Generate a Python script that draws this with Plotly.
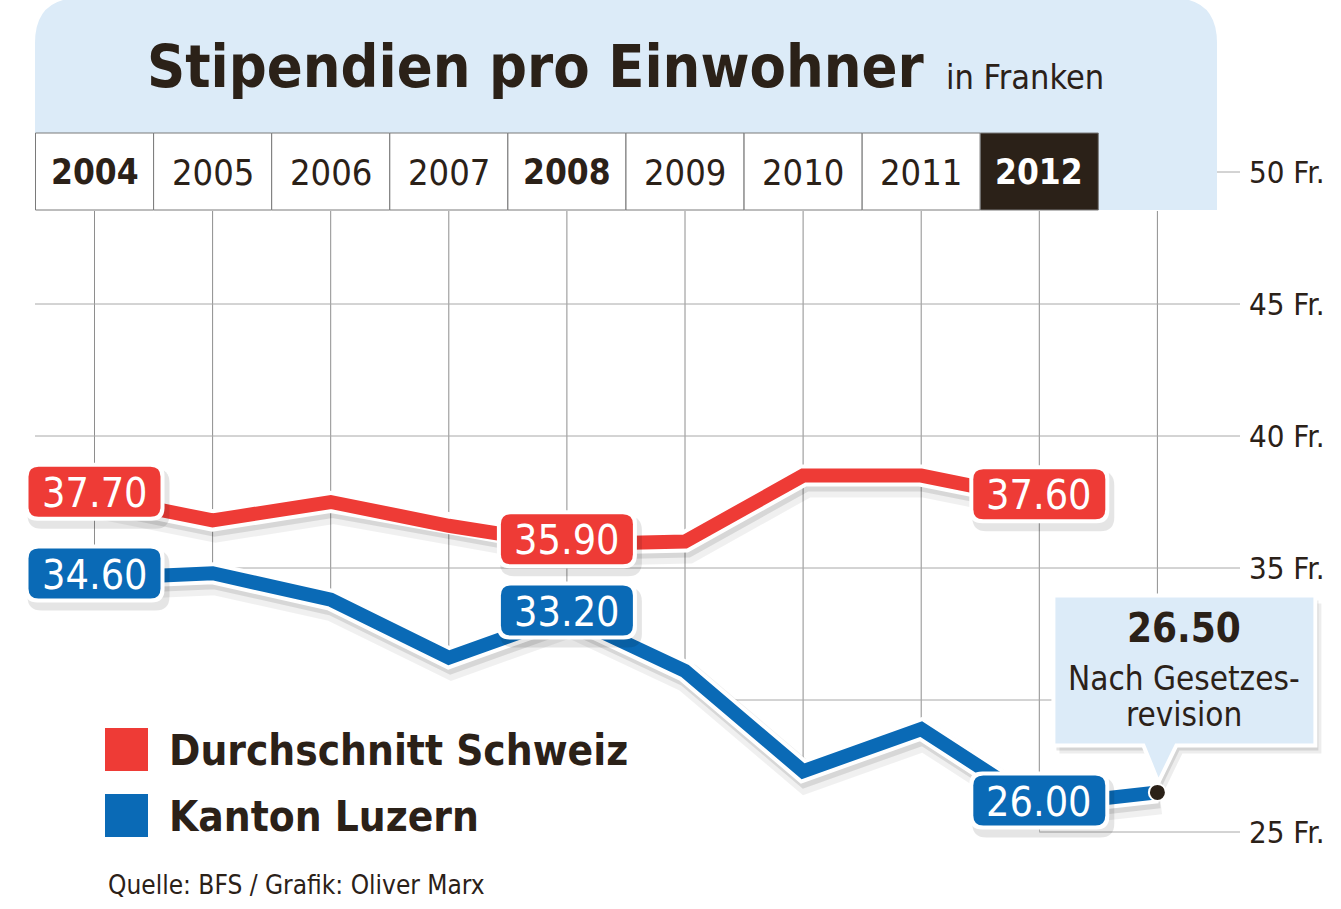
import plotly.graph_objects as go

# ---------------- data ----------------
years = [2004, 2005, 2006, 2007, 2008, 2009, 2010, 2011, 2012]
year_labels = ["2004", "2005", "2006", "2007", "2008", "2009", "2010", "2011", "2012"]
bold_years = ["2004", "2008", "2012"]
schweiz = [37.70, 36.8, 37.5, 36.6, 35.90, 36.0, 38.5, 38.5, 37.60]
luzern_years = [2004, 2005, 2006, 2007, 2008, 2009, 2010, 2011, 2012, 2013]
luzern = [34.60, 34.8, 33.8, 31.6, 33.20, 31.1, 27.3, 28.9, 26.00, 26.50]
labelled_years = [2004, 2008, 2012]
tick_values = [50, 45, 40, 35, 25]
tick_labels = ["50 Fr.", "45 Fr.", "40 Fr.", "35 Fr.", "25 Fr."]
grid_values = [45, 40, 35, 30, 25]
series_names = ["Durchschnitt Schweiz", "Kanton Luzern"]
title = "Stipendien pro Einwohner"
subtitle = "in Franken"
callout_lines = ["Nach Gesetzes-", "revision"]
source = "Quelle: BFS / Grafik: Oliver Marx"

# ---------------- style ----------------
W, H = 1341, 909
RED = "#ee3b36"
BLUE = "#0a6ab6"
DARK = "#2b2118"
LIGHT = "#dcebf8"
GRID_V = "#8e8e8e"
GRID_H = "#a8a8a8"
FONT = "DejaVu Sans Condensed, DejaVu Sans, sans-serif"

# pixel <-> data mapping
PX0, SX = 94.5, 118.1   # pixel x of first year, pixels per year
PY50, SY = 172.0, 26.4  # pixel y of 50 Fr., pixels per franc


def X(px):
    return years[0] + (px - PX0) / SX


def Y(py):
    return 50 - (py - PY50) / SY


def pxo(x):
    return PX0 + (x - years[0]) * SX


def pyo(y):
    return PY50 + (50 - y) * SY


def P(px, py):
    return f"{X(px):.5f},{Y(py):.5f}"


def rrect(x0, y0, x1, y1, r, top_only=False):
    rb = 0 if top_only else r
    return (f"M {P(x0 + r, y0)} L {P(x1 - r, y0)} Q {P(x1, y0)} {P(x1, y0 + r)} "
            f"L {P(x1, y1 - rb)} Q {P(x1, y1)} {P(x1 - rb, y1)} "
            f"L {P(x0 + rb, y1)} Q {P(x0, y1)} {P(x0, y1 - rb)} "
            f"L {P(x0, y0 + r)} Q {P(x0, y0)} {P(x0 + r, y0)} Z")


shapes = []
annotations = []


def ann(px, py, text, size, color=DARK, weight=400, anchor="left", yanchor="middle", xd=None, yd=None):
    annotations.append(dict(
        x=X(px) if xd is None else xd, y=Y(py) if yd is None else yd,
        xref="x", yref="y", text=text, showarrow=False,
        xanchor=anchor, yanchor=yanchor,
        font=dict(family=FONT, size=size, color=color, weight=weight),
    ))


# header panel
shapes.append(dict(type="path", path=rrect(35, -2, 1217, 210, 45, top_only=True),
                   fillcolor=LIGHT, line=dict(width=0), layer="below"))
ann(145, 66, title, 59, weight=700)
ann(944, 77, subtitle, 34)

# year cells
for yr, lab in zip(years, year_labels):
    cx = pxo(yr)
    dark = (yr == years[-1])
    shapes.append(dict(type="rect", x0=X(cx - 59), x1=X(cx + 59), y0=Y(133), y1=Y(210),
                       fillcolor=DARK if dark else "white",
                       line=dict(color="#7a7a7a", width=1), layer="below"))
    bold = lab in bold_years
    ann(cx, 172, lab, 35 if bold else 36, color="white" if dark else DARK,
        weight=700 if bold else 400, anchor="center")

# vertical grid lines
for yr in luzern_years:
    bottom = Y(832) if yr != luzern_years[-1] else luzern[-1]
    shapes.append(dict(type="line", x0=yr, x1=yr, y0=Y(211), y1=bottom,
                       line=dict(color=GRID_V, width=1), layer="below"))

# horizontal grid lines + ticks
for v in grid_values:
    shapes.append(dict(type="line", x0=X(35), x1=X(1240), y0=v, y1=v,
                       line=dict(color=GRID_H, width=1), layer="below"))
shapes.append(dict(type="line", x0=X(1217), x1=X(1240), y0=50, y1=50,
                   line=dict(color=GRID_H, width=1), layer="below"))
for v, lab in zip(tick_values, tick_labels):
    ann(1247, 0, lab, 31, anchor="left", yd=v)

fig = go.Figure()

# white mask below the Luzern line (hides grid)
n = len(years)
mask_x = [X(20)] + luzern_years[:n] + [luzern_years[n - 1], X(20)]
mask_y = [luzern[0]] + luzern[:n] + [Y(H + 5), Y(H + 5)]
fig.add_trace(go.Scatter(x=mask_x, y=mask_y, fill="toself", fillcolor="white",
                         mode="lines", line=dict(width=0), hoverinfo="skip", showlegend=False))

# lines: shadow, white outline, colour
for xs, ys, col in [(years, schweiz, RED), (luzern_years, luzern, BLUE)]:
    fig.add_trace(go.Scatter(x=[x + 3 / SX for x in xs], y=[y - 7 / SY for y in ys], mode="lines",
                             line=dict(color="rgba(0,0,0,0.06)", width=30), hoverinfo="skip", showlegend=False))
    fig.add_trace(go.Scatter(x=[x + 2 / SX for x in xs], y=[y - 5 / SY for y in ys], mode="lines",
                             line=dict(color="rgba(0,0,0,0.10)", width=22), hoverinfo="skip", showlegend=False))
    fig.add_trace(go.Scatter(x=xs, y=ys, mode="lines",
                             line=dict(color="white", width=22), hoverinfo="skip", showlegend=False))
    fig.add_trace(go.Scatter(x=xs, y=ys, mode="lines",
                             line=dict(color=col, width=14), hoverinfo="skip", showlegend=False))

# value labels
for xs, ys, col in [(years, schweiz, RED), (luzern_years, luzern, BLUE)]:
    for x, y in zip(xs, ys):
        if x not in labelled_years:
            continue
        cx, cy = pxo(x), pyo(y) - 5
        w, h = 140, 58
        shapes.append(dict(type="path", path=rrect(cx - w / 2 + 3, cy - h / 2 + 6, cx + w / 2 + 5, cy + h / 2 + 8, 14),
                           fillcolor="rgba(0,0,0,0.10)", line=dict(width=0), layer="above"))
        shapes.append(dict(type="path", path=rrect(cx - w / 2, cy - h / 2, cx + w / 2, cy + h / 2, 13),
                           fillcolor="white", line=dict(width=0), layer="above"))
        shapes.append(dict(type="path", path=rrect(cx - w / 2 + 4, cy - h / 2 + 4, cx + w / 2 - 4, cy + h / 2 - 4, 10),
                           fillcolor=col, line=dict(width=0), layer="above"))
        ann(cx, cy + 1, f"{y:.2f}", 41, color="white", anchor="center")

# callout for last Luzern value
dx, dy = pxo(luzern_years[-1]), pyo(luzern[-1])
bx0, bx1, by0, by1 = dx - 104, dx + 158, dy - 197, dy - 47


def callout_path(ox=0, oy=0):
    pts = [(bx0, by0), (bx1, by0), (bx1, by1), (dx + 19, by1), (dx + 1, dy - 10), (dx - 14, by1), (bx0, by1)]
    return "M " + " L ".join(P(a + ox, b + oy) for a, b in pts) + " Z"


shapes.append(dict(type="path", path=callout_path(6, 8), fillcolor="rgba(0,0,0,0.07)", line=dict(width=0), layer="above"))
shapes.append(dict(type="path", path=callout_path(3, 5), fillcolor="rgba(0,0,0,0.10)", line=dict(width=0), layer="above"))
shapes.append(dict(type="path", path=callout_path(), fillcolor=LIGHT, line=dict(color="white", width=4), layer="above"))
r = 8.5
shapes.append(dict(type="circle", x0=X(dx - r), x1=X(dx + r), y0=Y(dy + r), y1=Y(dy - r),
                   fillcolor=DARK, line=dict(color="white", width=2), layer="above"))
ccx = (bx0 + bx1) / 2
ann(ccx, dy - 164, f"{luzern[-1]:.2f}", 40, weight=700, anchor="center")
ann(ccx, dy - 114, callout_lines[0], 33, anchor="center")
ann(ccx, dy - 78, callout_lines[1], 33, anchor="center")

# legend
for i, (name, col) in enumerate(zip(series_names, [RED, BLUE])):
    top = 728 + i * 66
    shapes.append(dict(type="rect", x0=X(105), x1=X(148), y0=Y(top), y1=Y(top + 43),
                       fillcolor=col, line=dict(width=0), layer="above"))
    ann(167, top + 22, name, 42, weight=700)

ann(106, 885, source, 26)

fig.update_layout(
    width=W, height=H, autosize=False,
    margin=dict(l=0, r=0, t=0, b=0),
    paper_bgcolor="white", plot_bgcolor="white",
    xaxis=dict(range=[X(0), X(W)], visible=False, fixedrange=True),
    yaxis=dict(range=[Y(H), Y(0)], visible=False, fixedrange=True),
    shapes=shapes, annotations=annotations, showlegend=False,
)

fig.write_html("out.html")
